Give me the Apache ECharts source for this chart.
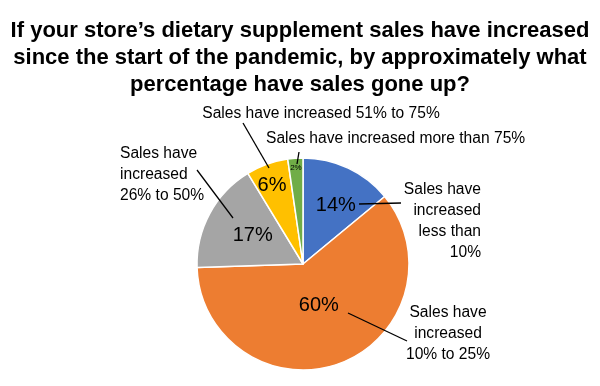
<!DOCTYPE html>
<html>
<head>
<meta charset="utf-8">
<script src="https://cdn.jsdelivr.net/npm/echarts@6/dist/echarts.min.js"></script>
<style>html,body{margin:0;padding:0;background:#fff}#c{width:600px;height:386px}</style>
</head>
<body>
<div id="c"></div>
<script>
const titleText = "If your store’s dietary supplement sales have increased\nsince the start of the pandemic, by approximately what\npercentage have sales gone up?";
const categories = [
  "Sales have\nincreased\nless than\n10%",
  "Sales have\nincreased\n10% to 25%",
  "Sales have\nincreased\n26% to 50%",
  "Sales have increased 51% to 75%",
  "Sales have increased more than 75%"
];
const values = [14, 60.4, 16.8, 6.4, 2.3];
const colors = ["#4472C4", "#ED7D31", "#A5A5A5", "#FFC000", "#70AD47"];

// layout settings (not data)
const FONT = "'Liberation Sans', Arial, sans-serif";
const pctOffsets = [[9, -8], [-4, -11], [-1, -2], [-12, -26], [-3, -40]];
const pctSizes = [20, 20, 20, 20, 8];
const catPos = [
  {x: 481, y: 179, align: 'right'},
  {x: 448, y: 302, align: 'center'},
  {x: 120, y: 143, align: 'left'},
  {x: 321, y: 103, align: 'center'},
  {x: 266, y: 128, align: 'left'}
];
const leaders = [
  [[359, 204], [401, 203]],
  [[348, 313], [407, 341]],
  [[197, 170], [233, 218]],
  [[243, 123], [269, 168]],
  [[299, 152], [297, 164]]
];
const center = [303, 264];
const radius = 106;

const chart = echarts.init(document.getElementById('c'), null, {renderer: 'canvas'});
chart.setOption({
  animation: false,
  backgroundColor: '#fff',
  title: {
    text: titleText,
    left: 'center',
    top: 12,
    textStyle: {fontFamily: FONT, fontSize: 22, fontWeight: 'bold', color: '#000', lineHeight: 27}
  },
  series: [
    {
      type: 'pie',
      z: 2,
      center: center,
      radius: radius,
      startAngle: 90,
      clockwise: true,
      silent: true,
      itemStyle: {borderColor: '#fff', borderWidth: 1.5},
      data: values.map((v, i) => ({
        value: v,
        name: categories[i],
        itemStyle: {color: colors[i]},
        label: {fontSize: pctSizes[i]}
      })),
      label: {
        show: true,
        position: 'inside',
        fontFamily: FONT,
        color: '#000',
        formatter: p => Math.round(p.value) + '%'
      },
      labelLine: {show: false},
      labelLayout: p => ({dx: pctOffsets[p.dataIndex][0], dy: pctOffsets[p.dataIndex][1]})
    },
    {
      type: 'pie',
      z: 5,
      center: center,
      radius: radius,
      startAngle: 90,
      clockwise: true,
      silent: true,
      itemStyle: {color: 'rgba(0,0,0,0)', borderWidth: 0},
      data: values.map((v, i) => ({value: v, name: categories[i]})),
      label: {
        show: true,
        position: 'outside',
        fontFamily: FONT,
        fontSize: 15.6,
        lineHeight: 21,
        color: '#000',
        overflow: 'none',
        formatter: p => p.name
      },
      labelLine: {show: true, lineStyle: {color: '#000', width: 1.3}, length: 10, length2: 10, minTurnAngle: 0, maxSurfaceAngle: 180},
      labelLayout: p => {
        const c = catPos[p.dataIndex];
        const L = leaders[p.dataIndex];
        const mid = [(L[0][0] + L[1][0]) / 2, (L[0][1] + L[1][1]) / 2];
        return {
          x: c.x, y: c.y, align: c.align, verticalAlign: 'top',
          labelLinePoints: [L[0], mid, L[1]]
        };
      }
    }
  ]
});
</script>
</body>
</html>
